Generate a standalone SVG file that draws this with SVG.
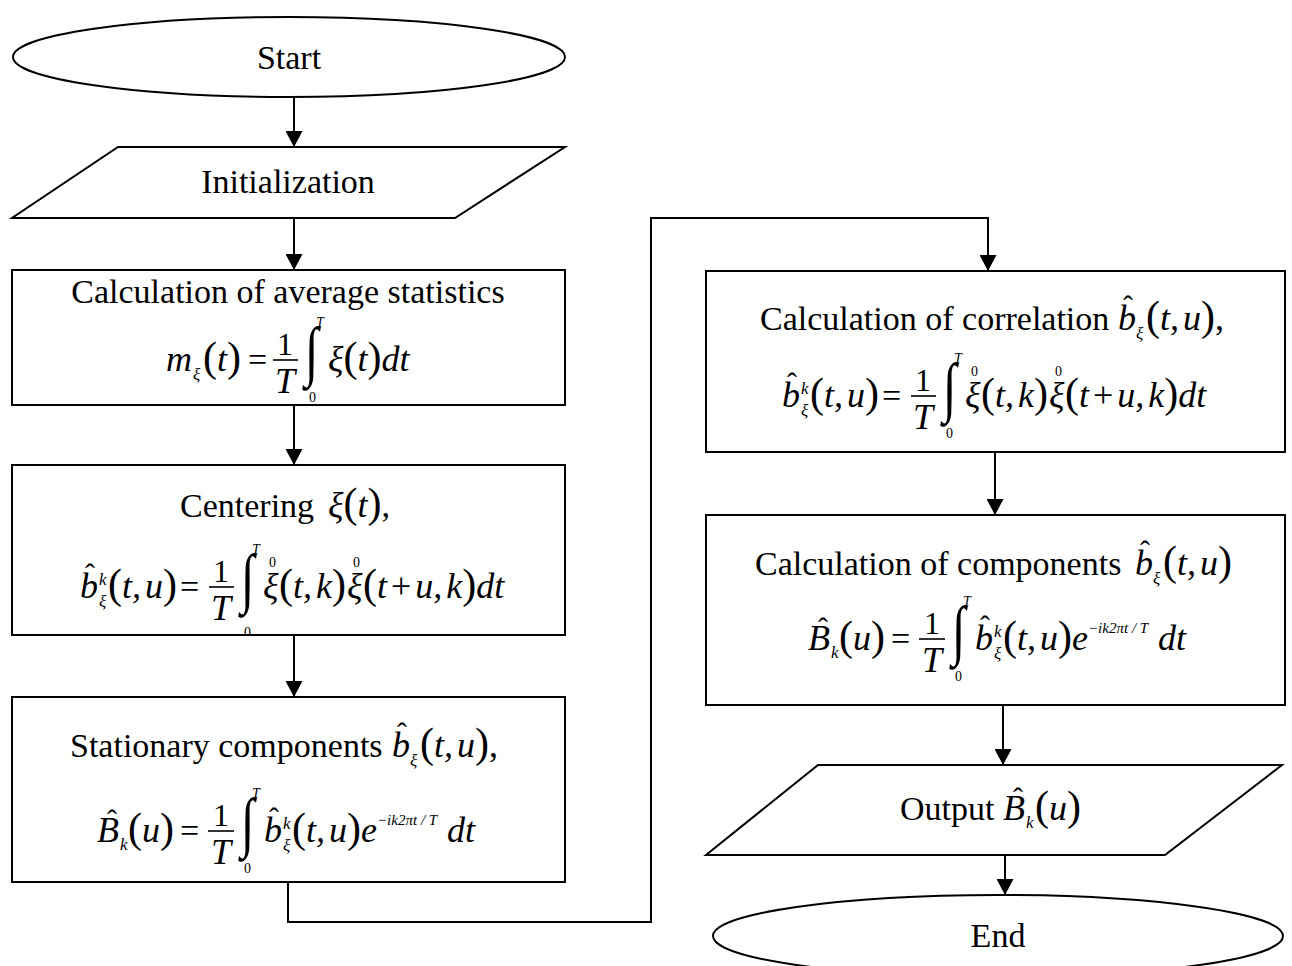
<svg xmlns="http://www.w3.org/2000/svg" width="1292" height="966" viewBox="0 0 1292 966">
<style>
text { font-family: "Liberation Serif", "Times New Roman", serif; fill: #000; }
.sh { fill: #fff; stroke: #000; stroke-width: 2; }
.ln { fill: none; stroke: #000; stroke-width: 2; }
.bar { stroke: #000; stroke-width: 1.6; }
.tx { font-size: 34px; }
.mi { font-size: 36px; font-style: italic; }
.pa { font-size: 42px; font-style: normal; }
.up { font-style: normal; }
.op { font-size: 34px; }
.num { font-size: 32px; }
.sm { font-size: 17px; font-style: italic; }
.lm { font-size: 14px; }
.li { font-size: 14px; font-style: italic; }
.ex { font-size: 15px; font-style: italic; }
.ig { font-size: 66px; }
.hat { font-size: 30px; }
</style>
<defs>
<marker id="ah" markerUnits="userSpaceOnUse" markerWidth="17" markerHeight="17" refX="16" refY="8.5" orient="auto">
<path d="M0,0 L16,8.5 L0,17 Z" fill="#000"/>
</marker>
<clipPath id="clip2"><rect x="12" y="465" width="553" height="170"/></clipPath>
</defs>
<rect width="1292" height="966" fill="#fff"/>

<g id="connectors">
<path class="ln" d="M294,97 L294,147" marker-end="url(#ah)"/>
<path class="ln" d="M294,218 L294,270" marker-end="url(#ah)"/>
<path class="ln" d="M294,405 L294,465" marker-end="url(#ah)"/>
<path class="ln" d="M294,635 L294,697" marker-end="url(#ah)"/>
<path class="ln" d="M288,882 L288,922 L651,922 L651,218 L988,218 L988,271" marker-end="url(#ah)"/>
<path class="ln" d="M995,452 L995,515" marker-end="url(#ah)"/>
<path class="ln" d="M1003,705 L1003,765" marker-end="url(#ah)"/>
<path class="ln" d="M1005,855 L1005,895" marker-end="url(#ah)"/>
</g>

<g id="start">
<ellipse class="sh" cx="289" cy="57" rx="276" ry="40"/>
<text class="tx" x="289" y="69" text-anchor="middle">Start</text>
</g>

<g id="init">
<polygon class="sh" points="118,147 565,147 455,218 12,218"/>
<text class="tx" x="288" y="193" text-anchor="middle">Initialization</text>
</g>

<g id="avg">
<rect class="sh" x="12" y="270" width="553" height="135"/>
<text class="tx" x="288" y="303" text-anchor="middle">Calculation of average statistics</text>
<g transform="translate(166,371)">
<text class="mi" x="0" y="0">m</text>
<text class="sm" x="27" y="9">ξ</text>
<text class="mi" x="37" y="0"><tspan class="pa">(</tspan>t<tspan class="pa">)</tspan></text>
<text class="op" x="82" y="0">=</text>
<text class="num" x="119" y="-16" text-anchor="middle">1</text>
<line class="bar" x1="107" y1="-11" x2="132" y2="-11"/>
<text class="mi" x="119" y="22" text-anchor="middle">T</text>
<text class="ig" transform="translate(139,2) scale(0.75,1)">∫</text>
<text class="li" x="150" y="-44">T</text>
<text class="lm" x="143" y="31">0</text>
<text class="mi" x="162" y="0">ξ<tspan class="pa">(</tspan>t<tspan class="pa">)</tspan>dt</text>
</g>
</g>

<g id="center">
<rect class="sh" x="12" y="465" width="553" height="170"/>
<text class="tx" x="180" y="517">Centering<tspan class="mi" dx="14">ξ</tspan><tspan class="pa">(</tspan><tspan class="mi">t</tspan><tspan class="pa">)</tspan>,</text>
<g clip-path="url(#clip2)">
<g transform="translate(80,598)">
<text class="mi" x="0" y="0">b</text>
<text class="hat" x="5" y="-14">ˆ</text>
<text class="sm" x="19" y="-13">k</text>
<text class="sm" x="19" y="9">ξ</text>
<text class="mi" x="28" y="0"><tspan class="pa">(</tspan>t,<tspan dx="4">u</tspan><tspan class="pa">)</tspan></text>
<text class="op" x="100" y="0">=</text>
<text class="num" x="141" y="-16" text-anchor="middle">1</text>
<line class="bar" x1="129" y1="-11" x2="154" y2="-11"/>
<text class="mi" x="141" y="22" text-anchor="middle">T</text>
<text class="ig" transform="translate(161,2) scale(0.75,1)">∫</text>
<text class="li" x="172" y="-44">T</text>
<text class="lm" x="164" y="39">0</text>
<text class="mi" x="183" y="0">ξ</text>
<text class="lm" x="189" y="-31">0</text>
<text class="mi" x="199" y="0"><tspan class="pa">(</tspan>t,<tspan dx="4">k</tspan><tspan class="pa">)</tspan></text>
<text class="mi" x="267" y="0">ξ</text>
<text class="lm" x="273" y="-31">0</text>
<text class="mi" x="283" y="0"><tspan class="pa">(</tspan>t<tspan class="up" dx="4">+</tspan><tspan dx="4">u</tspan>,<tspan dx="4">k</tspan><tspan class="pa">)</tspan>dt</text>
</g>
</g>
</g>

<g id="stationary">
<rect class="sh" x="12" y="697" width="553" height="185"/>
<text class="tx" x="70" y="757">Stationary components</text>
<text class="mi" x="392" y="757">b</text>
<text class="hat" x="397" y="743">ˆ</text>
<text class="sm" x="410" y="766">ξ</text>
<text class="mi" x="420" y="757"><tspan class="pa">(</tspan>t,<tspan dx="4">u</tspan><tspan class="pa">)</tspan><tspan class="up">,</tspan></text>
<g transform="translate(97,842)">
<text class="mi" x="0" y="0">B</text>
<text class="hat" x="10" y="-12">ˆ</text>
<text class="sm" x="23" y="8">k</text>
<text class="mi" x="31" y="0"><tspan class="pa">(</tspan>u<tspan class="pa">)</tspan></text>
<text class="op" x="83" y="0">=</text>
<text class="num" x="124" y="-16" text-anchor="middle">1</text>
<line class="bar" x1="111" y1="-11" x2="137" y2="-11"/>
<text class="mi" x="124" y="22" text-anchor="middle">T</text>
<text class="ig" transform="translate(144,2) scale(0.75,1)">∫</text>
<text class="li" x="155" y="-44">T</text>
<text class="lm" x="147" y="31">0</text>
<text class="mi" x="167" y="0">b</text>
<text class="hat" x="172" y="-14">ˆ</text>
<text class="sm" x="186" y="-13">k</text>
<text class="sm" x="186" y="9">ξ</text>
<text class="mi" x="195" y="0"><tspan class="pa">(</tspan>t,<tspan dx="4">u</tspan><tspan class="pa">)</tspan>e</text>
<text class="ex" x="280" y="-17">−ik2πt / T</text>
<text class="mi" x="350" y="0">dt</text>
</g>
</g>

<g id="corr">
<rect class="sh" x="706" y="271" width="579" height="181"/>
<text class="tx" x="760" y="330">Calculation of correlation</text>
<text class="mi" x="1118" y="330">b</text>
<text class="hat" x="1123" y="316">ˆ</text>
<text class="sm" x="1136" y="339">ξ</text>
<text class="mi" x="1146" y="330"><tspan class="pa">(</tspan>t,<tspan dx="4">u</tspan><tspan class="pa">)</tspan><tspan class="up">,</tspan></text>
<g transform="translate(782,407)">
<text class="mi" x="0" y="0">b</text>
<text class="hat" x="5" y="-14">ˆ</text>
<text class="sm" x="19" y="-13">k</text>
<text class="sm" x="19" y="9">ξ</text>
<text class="mi" x="28" y="0"><tspan class="pa">(</tspan>t,<tspan dx="4">u</tspan><tspan class="pa">)</tspan></text>
<text class="op" x="100" y="0">=</text>
<text class="num" x="141" y="-16" text-anchor="middle">1</text>
<line class="bar" x1="129" y1="-11" x2="154" y2="-11"/>
<text class="mi" x="141" y="22" text-anchor="middle">T</text>
<text class="ig" transform="translate(161,2) scale(0.75,1)">∫</text>
<text class="li" x="172" y="-44">T</text>
<text class="lm" x="164" y="31">0</text>
<text class="mi" x="183" y="0">ξ</text>
<text class="lm" x="189" y="-31">0</text>
<text class="mi" x="199" y="0"><tspan class="pa">(</tspan>t,<tspan dx="4">k</tspan><tspan class="pa">)</tspan></text>
<text class="mi" x="267" y="0">ξ</text>
<text class="lm" x="273" y="-31">0</text>
<text class="mi" x="283" y="0"><tspan class="pa">(</tspan>t<tspan class="up" dx="4">+</tspan><tspan dx="4">u</tspan>,<tspan dx="4">k</tspan><tspan class="pa">)</tspan>dt</text>
</g>
</g>

<g id="comp">
<rect class="sh" x="706" y="515" width="579" height="190"/>
<text class="tx" x="755" y="575">Calculation of components</text>
<text class="mi" x="1135" y="575">b</text>
<text class="hat" x="1140" y="561">ˆ</text>
<text class="sm" x="1153" y="584">ξ</text>
<text class="mi" x="1163" y="575"><tspan class="pa">(</tspan>t,<tspan dx="4">u</tspan><tspan class="pa">)</tspan></text>
<g transform="translate(808,650)">
<text class="mi" x="0" y="0">B</text>
<text class="hat" x="10" y="-12">ˆ</text>
<text class="sm" x="23" y="8">k</text>
<text class="mi" x="31" y="0"><tspan class="pa">(</tspan>u<tspan class="pa">)</tspan></text>
<text class="op" x="83" y="0">=</text>
<text class="num" x="124" y="-16" text-anchor="middle">1</text>
<line class="bar" x1="111" y1="-11" x2="137" y2="-11"/>
<text class="mi" x="124" y="22" text-anchor="middle">T</text>
<text class="ig" transform="translate(144,2) scale(0.75,1)">∫</text>
<text class="li" x="155" y="-44">T</text>
<text class="lm" x="147" y="31">0</text>
<text class="mi" x="167" y="0">b</text>
<text class="hat" x="172" y="-14">ˆ</text>
<text class="sm" x="186" y="-13">k</text>
<text class="sm" x="186" y="9">ξ</text>
<text class="mi" x="195" y="0"><tspan class="pa">(</tspan>t,<tspan dx="4">u</tspan><tspan class="pa">)</tspan>e</text>
<text class="ex" x="280" y="-17">−ik2πt / T</text>
<text class="mi" x="350" y="0">dt</text>
</g>
</g>

<g id="output">
<polygon class="sh" points="818,765 1282,765 1165,855 706,855"/>
<text class="tx" x="900" y="820">Output</text>
<text class="mi" x="1003" y="820">B</text>
<text class="hat" x="1013" y="808">ˆ</text>
<text class="sm" x="1026" y="828">k</text>
<text class="mi" x="1035" y="820"><tspan class="pa">(</tspan>u<tspan class="pa">)</tspan></text>
</g>

<g id="end">
<ellipse class="sh" cx="998" cy="936" rx="285" ry="41"/>
<text class="tx" x="998" y="947" text-anchor="middle">End</text>
</g>
</svg>
